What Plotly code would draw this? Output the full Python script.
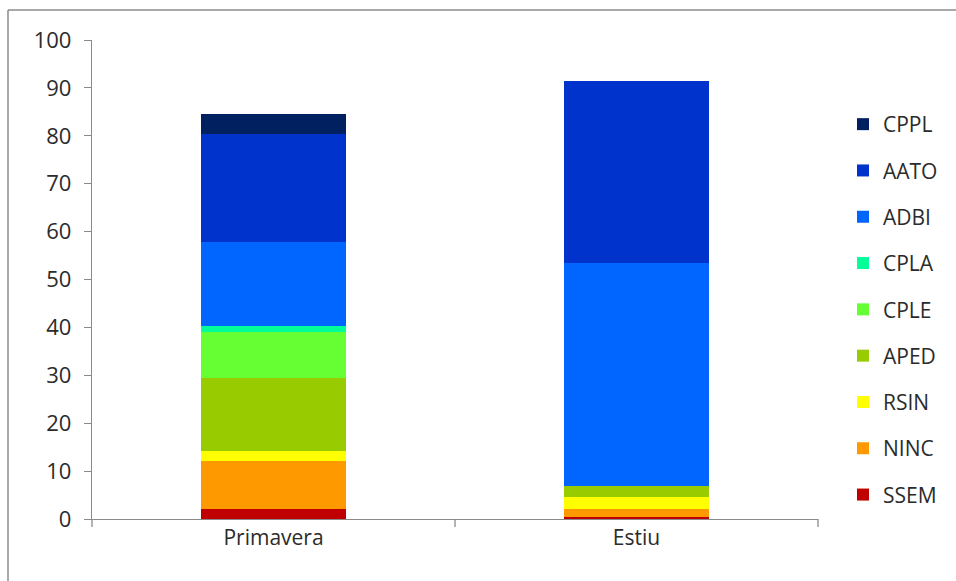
import plotly.graph_objects as go

seasons = ["Primavera", "Estiu"]

# stacked order, bottom to top
groups = ["SSEM", "NINC", "RSIN", "APED", "CPLE", "CPLA", "ADBI", "AATO", "CPPL"]
ssem = [2.15, 0.35]
ninc = [10.0, 1.75]
rsin = [2.0, 2.4]
aped = [15.3, 2.45]
cple = [9.5, 0.0]
cpla = [1.4, 0.0]
adbi = [17.5, 46.45]
aato = [22.6, 38.0]
cppl = [4.2, 0.0]

values = [ssem, ninc, rsin, aped, cple, cpla, adbi, aato, cppl]
colors = ["#C00000", "#FF9900", "#FFFF00", "#99CC00", "#66FF33",
          "#00FF99", "#0066FF", "#0033CC", "#002060"]

y_ticks = list(range(0, 101, 10))

FONT = "Open Sans"
TEXT = "#2b2b2b"

fig = go.Figure()
n = len(groups)
for i, (name, vals, col) in enumerate(zip(groups, values, colors)):
    fig.add_trace(go.Bar(
        x=seasons, y=vals, name=name,
        marker=dict(color=col, line=dict(width=0)),
        legendgroup=name, legendrank=n - i,
    ))

W, H = 956, 581
L, R, T, B = 92, 138, 40, 62
pw, ph = W - L - R, H - T - B

def px_x(x):
    return (x - L) / pw

def px_y(y):
    return (H - B - y) / ph

fig.update_layout(
    width=W, height=H,
    margin=dict(l=L, r=R, t=T, b=B, autoexpand=False),
    paper_bgcolor="white", plot_bgcolor="white",
    barmode="stack", bargap=0.6,
    font=dict(family=FONT, size=21, color=TEXT),
    showlegend=True,
    legend=dict(
        x=px_x(843), y=px_y(104), xanchor="left", yanchor="top",
        traceorder="grouped", tracegroupgap=16,
        font=dict(family=FONT, size=21, color=TEXT),
        itemwidth=30, bgcolor="rgba(0,0,0,0)",
    ),
    xaxis=dict(
        showline=True, linecolor="#8a8a8a", linewidth=1.3,
        ticks="", showgrid=False, tickfont=dict(size=21),
    ),
    yaxis=dict(
        range=[0, 100], tickvals=y_ticks, showgrid=False,
        showline=True, linecolor="#8a8a8a", linewidth=1.3,
        ticks="outside", ticklen=7, tickcolor="#8a8a8a",
        tickfont=dict(size=22), ticklabelstandoff=8,
    ),
    shapes=[
        # chart frame (top and left edges)
        dict(type="line", xref="paper", yref="paper",
             x0=px_x(8), x1=px_x(960), y0=px_y(10), y1=px_y(10),
             line=dict(color="#8c8c8c", width=1.5)),
        dict(type="line", xref="paper", yref="paper",
             x0=px_x(8), x1=px_x(8), y0=px_y(10), y1=px_y(585),
             line=dict(color="#8c8c8c", width=1.5)),
        # category separators on the x axis
        *[dict(type="line", xref="paper", yref="paper",
               x0=px_x(xp), x1=px_x(xp), y0=px_y(519), y1=px_y(527),
               line=dict(color="#8a8a8a", width=1.3))
          for xp in (92, 455, 818)],
    ],
)

fig.write_html("out.html")
